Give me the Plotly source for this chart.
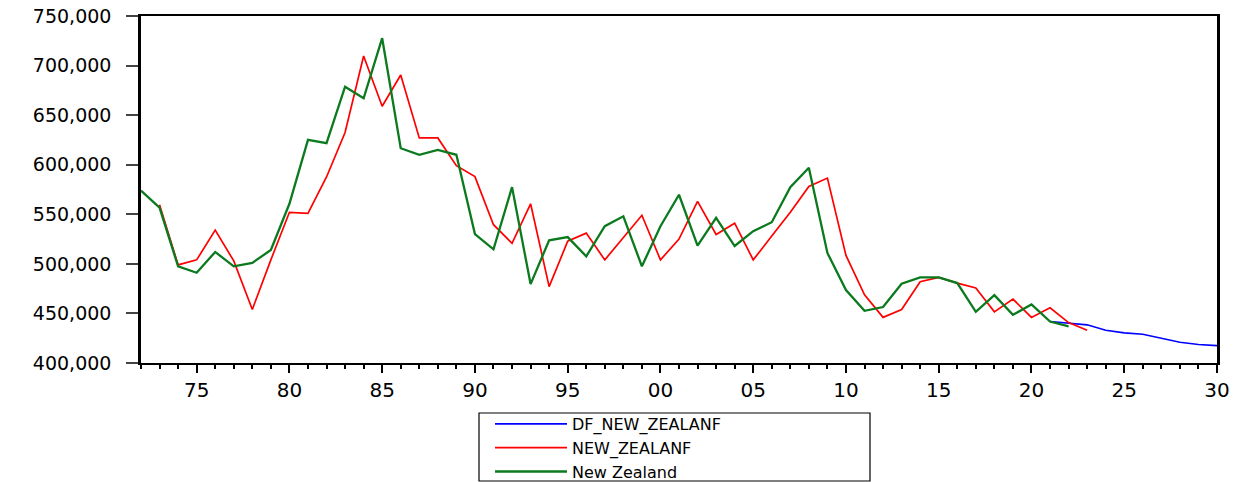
import plotly.graph_objects as go

# ---- data ----
years_nz = list(range(1972, 2023))
new_zealand = [573800, 556600, 497500, 491000, 512000, 497500, 501000, 514000, 560600, 625000,
               621700, 678700, 667000, 727600, 616600, 610000, 615000, 610000, 530000, 514700,
               577400, 479600, 523800, 527000, 507600, 538000, 548000, 497500, 538000, 569700,
               518400, 546400, 518000, 533000, 542000, 577400, 597000, 511000, 473600, 452600,
               456400, 480000, 486400, 486400, 480600, 451600, 468500, 448600, 459000, 441800,
               437000]

years_f = list(range(1973, 2024))
new_zealanf = [559600, 499000, 504000, 534000, 503000, 454000, 504000, 552000, 551000, 587600,
               632500, 709700, 659000, 690500, 627000, 627000, 599000, 588000, 539500, 520700,
               560600, 477000, 522800, 531000, 504000, 527000, 549000, 504000, 525000, 563000,
               529600, 541000, 504000, 528000, 552000, 578000, 586500, 508500, 468800, 446000,
               454000, 482000, 486400, 480600, 475600, 451600, 464500, 446000, 455700, 440800,
               433000]

years_df = list(range(2021, 2031))
df_new_zealanf = [441800, 440500, 438500, 433000, 430400, 429000, 425000, 421000, 418600, 417500]

x_tick_vals = [1975, 1980, 1985, 1990, 1995, 2000, 2005, 2010, 2015, 2020, 2025, 2030]
x_tick_text = ["75", "80", "85", "90", "95", "00", "05", "10", "15", "20", "25", "30"]
y_tick_vals = [400000, 450000, 500000, 550000, 600000, 650000, 700000, 750000]

FONT = "DejaVu Sans"

fig = go.Figure()
fig.add_trace(go.Scatter(x=years_df, y=df_new_zealanf, mode="lines", name="DF_NEW_ZEALANF",
                         line=dict(color="#0000FF", width=1.6)))
fig.add_trace(go.Scatter(x=years_f, y=new_zealanf, mode="lines", name="NEW_ZEALANF",
                         line=dict(color="#FF0000", width=1.7)))
fig.add_trace(go.Scatter(x=years_nz, y=new_zealand, mode="lines", name="New Zealand",
                         line=dict(color="#0B7A1E", width=2.3)))

W, H = 1245, 482
L, R, T, B = 141, 28, 16, 119
pw = W - L - R
ph = H - T - B

def px_x(p):  # page pixel -> paper x
    return (p - L) / pw

def px_y(p):  # page pixel -> paper y
    return (H - B - p) / ph

fig.update_layout(
    width=W, height=H,
    margin=dict(l=L, r=R, t=T, b=B, pad=0, autoexpand=False),
    paper_bgcolor="white", plot_bgcolor="white",
    font=dict(family=FONT, color="black", size=19),
    showlegend=True,
    legend=dict(x=px_x(490), y=px_y(407), xanchor="left", yanchor="top",
                bgcolor="rgba(0,0,0,0)", borderwidth=0,
                font=dict(family=FONT, size=16, color="black"),
                itemwidth=72, tracegroupgap=0),
    shapes=[dict(type="rect", xref="paper", yref="paper",
                 x0=px_x(479), x1=px_x(870), y0=px_y(413), y1=px_y(481),
                 line=dict(color="black", width=1.2), fillcolor="rgba(0,0,0,0)",
                 layer="above")],
)

fig.update_xaxes(
    range=[1972, 2030], tickmode="array", tickvals=x_tick_vals, ticktext=x_tick_text,
    ticks="outside", ticklen=8, tickwidth=2, tickcolor="black",
    showline=True, linecolor="black", linewidth=2, mirror=True,
    showgrid=False, zeroline=False, automargin=False, ticklabeloverflow="allow",
    tickfont=dict(family=FONT, size=20, color="black"),
    minor=dict(tickmode="linear", tick0=1972, dtick=1, ticks="outside", ticklen=4,
               tickwidth=2, tickcolor="black", showgrid=False),
)
fig.update_yaxes(
    range=[400000, 750000], tickmode="array", tickvals=y_tick_vals, tickformat=",",
    ticks="outside", ticklen=12, tickwidth=1.5, tickcolor="#444444",
    showline=True, linecolor="black", linewidth=2.5, mirror=True,
    showgrid=False, zeroline=False, ticklabelstandoff=11, automargin=False,
    ticklabeloverflow="allow",
    tickfont=dict(family=FONT, size=19, color="black"),
)

# remove the browser's default 8px body margin so the figure fills the window exactly
fig.write_html("out.html", config={"displayModeBar": False},
               post_script="document.body.style.margin='0px';")
